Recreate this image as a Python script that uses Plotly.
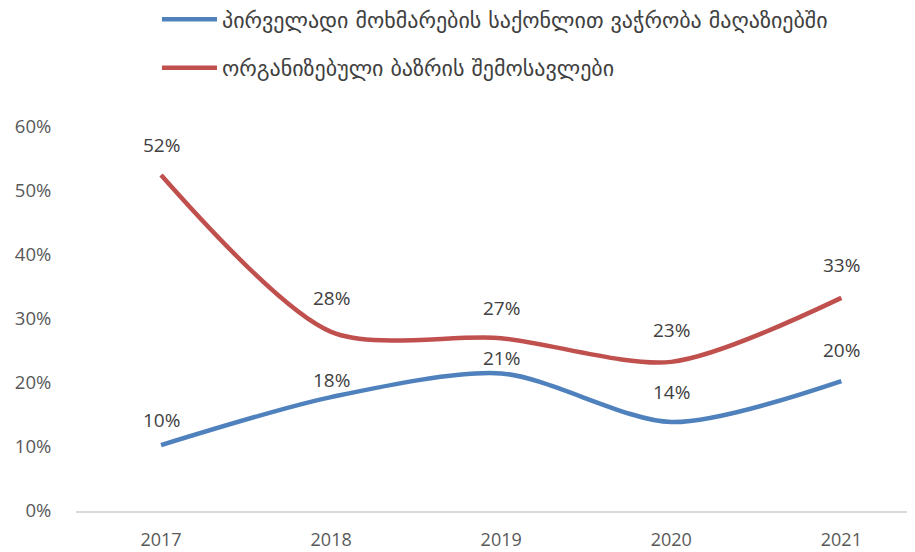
import plotly.graph_objects as go

years = ["2017", "2018", "2019", "2020", "2021"]
retail = [0.103, 0.178, 0.215, 0.139, 0.203]
organized = [0.525, 0.280, 0.270, 0.233, 0.333]
retail_labels = ["10%", "18%", "21%", "14%", "20%"]
organized_labels = ["52%", "28%", "27%", "23%", "33%"]
name_retail = "პირველადი მოხმარების საქონლით ვაჭრობა მაღაზიებში"
name_org = "ორგანიზებული ბაზრის შემოსავლები"

# label offsets (pixels above each point), as placed in the original
retail_shift = [25, 17, 15, 30, 31]
organized_shift = [30, 34, 30, 32, 33]

BLUE = "#4F81BD"
RED = "#C0504D"
FONT = "DejaVu Sans"
NUMFONT = "Open Sans"

fig = go.Figure()
fig.add_trace(go.Scatter(x=years, y=retail, mode="lines", name=name_retail, legendgroup="a",
                         line=dict(color=BLUE, width=4.5, shape="spline", smoothing=0.8)))
fig.add_trace(go.Scatter(x=years, y=organized, mode="lines", name=name_org, legendgroup="b",
                         line=dict(color=RED, width=4.5, shape="spline", smoothing=0.8)))

for ys, labs, shifts in ((retail, retail_labels, retail_shift),
                         (organized, organized_labels, organized_shift)):
    for i, (y, t, s) in enumerate(zip(ys, labs, shifts)):
        fig.add_annotation(x=i, y=y, xref="x", yref="y", text=t, showarrow=False, yshift=s,
                           font=dict(family=NUMFONT, size=19, color="#404040"))

fig.update_layout(
    width=915, height=552,
    margin=dict(l=68, r=0, t=119, b=49, autoexpand=False),
    paper_bgcolor="white", plot_bgcolor="white",
    showlegend=True,
    legend=dict(x=0.0956, y=1.335, xanchor="left", yanchor="top",
                font=dict(family=FONT, size=22, color="#404040"),
                tracegroupgap=17, itemwidth=55, bgcolor="rgba(0,0,0,0)"),
    xaxis=dict(type="category", range=[-0.5, 4.48], showgrid=False, automargin=False,
               showline=True, linecolor="#D9D9D9", linewidth=1.5,
               ticks="outside", ticklen=12, tickcolor="rgba(0,0,0,0)",
               tickfont=dict(family=NUMFONT, size=18, color="#595959")),
    yaxis=dict(range=[0, 0.6], tickvals=[0, 0.1, 0.2, 0.3, 0.4, 0.5, 0.6],
               tickformat=".0%", showgrid=False, zeroline=False, showline=False,
               ticks="outside", ticklen=20, tickcolor="rgba(0,0,0,0)", automargin=False,
               tickfont=dict(family=NUMFONT, size=18.5, color="#595959")),
)

fig.write_html("out.html")
